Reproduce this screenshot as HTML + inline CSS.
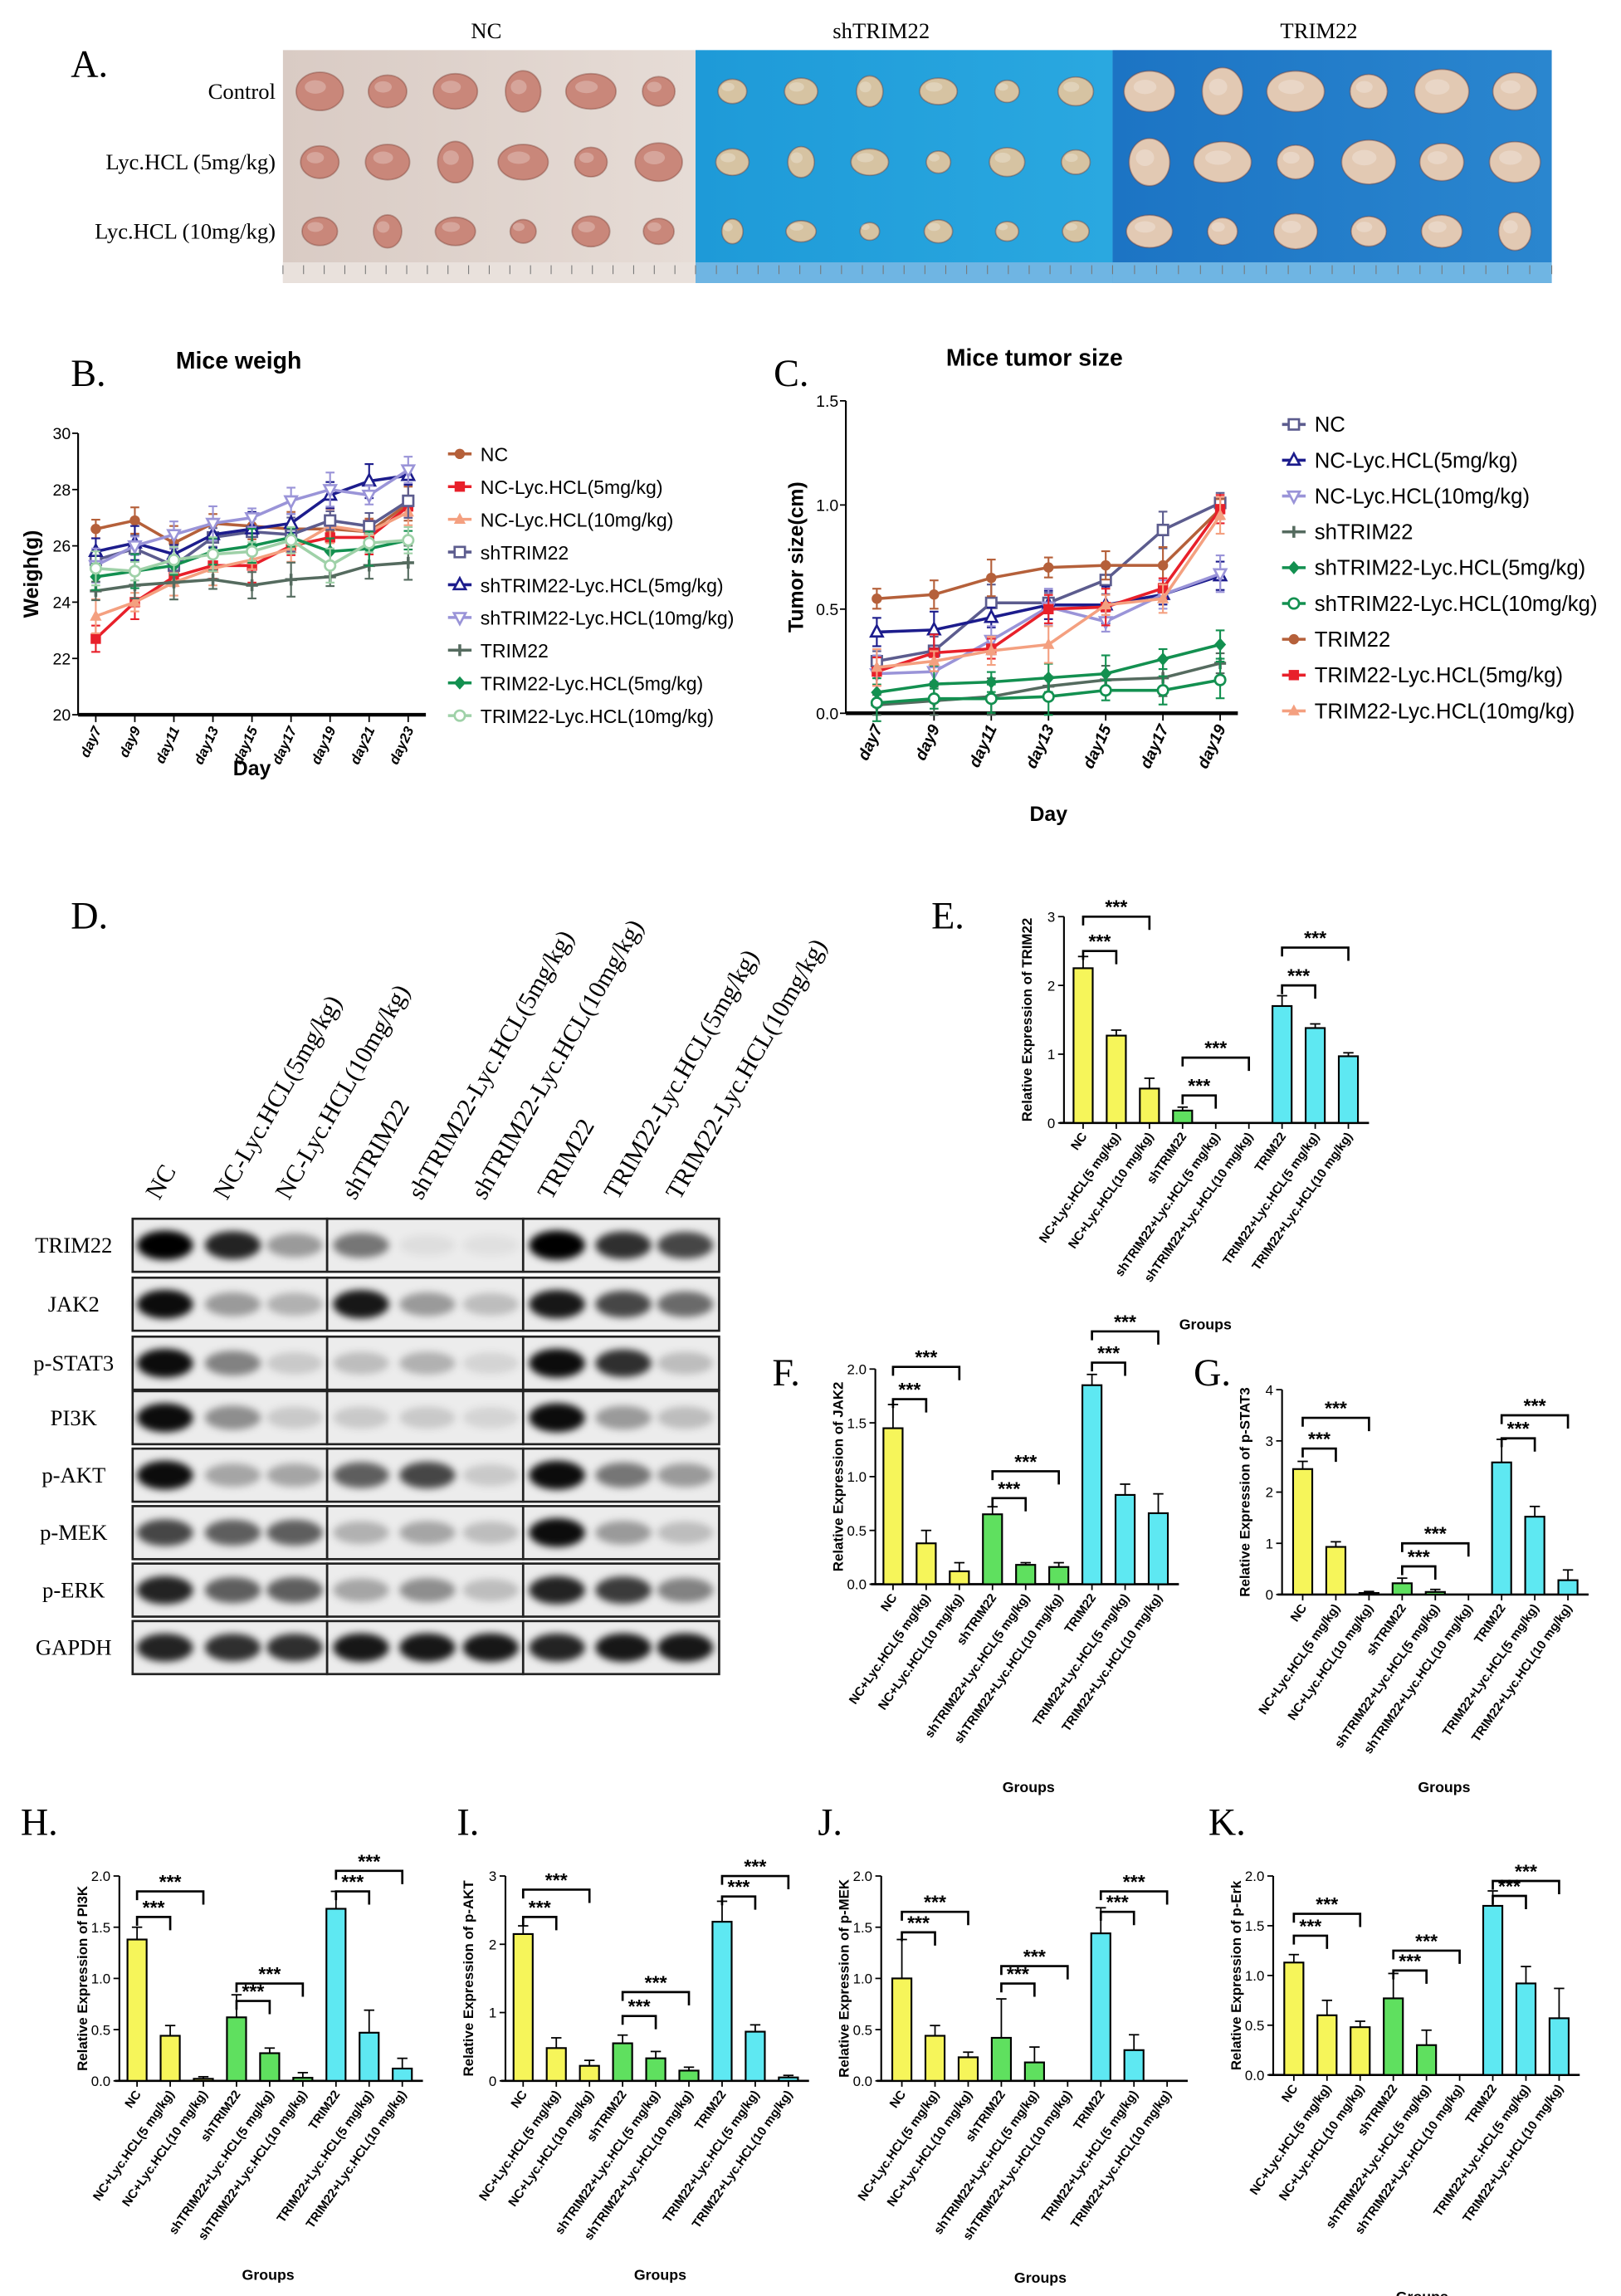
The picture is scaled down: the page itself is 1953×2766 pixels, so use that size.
<!DOCTYPE html>
<html><head><meta charset="utf-8">
<style>
html,body{margin:0;padding:0;background:#fff;}
svg{display:block;}
text{font-family:"Liberation Sans",Arial,sans-serif;}
.serif{font-family:"Liberation Serif",serif;}
</style></head>
<body>
<svg id="fig" xmlns="http://www.w3.org/2000/svg" width="1953" height="2766" viewBox="0 0 1100 1558" preserveAspectRatio="none">
<defs>
<filter id="blur" x="-50%" y="-50%" width="200%" height="200%"><feGaussianBlur stdDeviation="2.5"/></filter>
<linearGradient id="gNC" x1="0" x2="1"><stop offset="0" stop-color="#d9cbc4"/><stop offset="1" stop-color="#e6dcd6"/></linearGradient>
<linearGradient id="gSH" x1="0" x2="1"><stop offset="0" stop-color="#1e9ad8"/><stop offset="1" stop-color="#2aa8e0"/></linearGradient>
<linearGradient id="gTR" x1="0" x2="1"><stop offset="0" stop-color="#1c74c4"/><stop offset="1" stop-color="#2a86cf"/></linearGradient>
</defs>
<g id="root"></g>
</svg>
<script>
// ---------- DATA ----------
const days7to23 = ['day7','day9','day11','day13','day15','day17','day19','day21','day23'];
const days7to19 = ['day7','day9','day11','day13','day15','day17','day19'];
const weightSeriesNames = ['NC','NC-Lyc.HCL(5mg/kg)','NC-Lyc.HCL(10mg/kg)','shTRIM22','shTRIM22-Lyc.HCL(5mg/kg)','shTRIM22-Lyc.HCL(10mg/kg)','TRIM22','TRIM22-Lyc.HCL(5mg/kg)','TRIM22-Lyc.HCL(10mg/kg)'];
const wNC   = [26.6,26.9,26.1,26.8,26.7,26.6,26.6,26.5,27.5];
const wNC5  = [22.7,24.0,24.9,25.3,25.3,26.0,26.3,26.3,27.4];
const wNC10 = [23.5,24.0,24.7,25.2,25.5,25.9,26.7,26.5,27.2];
const wSH   = [25.5,25.9,25.3,26.3,26.5,26.4,26.9,26.7,27.6];
const wSH5  = [25.8,26.1,25.7,26.4,26.6,26.8,27.8,28.3,28.5];
const wSH10 = [25.3,26.0,26.4,26.8,27.0,27.6,28.0,27.8,28.7];
const wTR   = [24.4,24.6,24.7,24.8,24.6,24.8,24.9,25.3,25.4];
const wTR5  = [24.9,25.1,25.3,25.8,26.0,26.3,25.8,25.9,26.2];
const wTR10 = [25.2,25.1,25.5,25.7,25.8,26.2,25.3,26.1,26.2];
const weightTicks = [20,22,24,26,28,30];

const tumorSeriesNames = ['NC','NC-Lyc.HCL(5mg/kg)','NC-Lyc.HCL(10mg/kg)','shTRIM22','shTRIM22-Lyc.HCL(5mg/kg)','shTRIM22-Lyc.HCL(10mg/kg)','TRIM22','TRIM22-Lyc.HCL(5mg/kg)','TRIM22-Lyc.HCL(10mg/kg)'];
const tNC   = [0.25,0.30,0.53,0.53,0.64,0.88,1.01];
const tNC5  = [0.39,0.40,0.46,0.52,0.52,0.57,0.66];
const tNC10 = [0.19,0.20,0.35,0.51,0.44,0.57,0.67];
const tSH   = [0.04,0.06,0.08,0.13,0.16,0.17,0.24];
const tSH5  = [0.10,0.14,0.15,0.17,0.19,0.26,0.33];
const tSH10 = [0.05,0.07,0.07,0.08,0.11,0.11,0.16];
const tTR   = [0.55,0.57,0.65,0.70,0.71,0.71,0.98];
const tTR5  = [0.20,0.29,0.31,0.50,0.51,0.60,0.98];
const tTR10 = [0.22,0.25,0.30,0.33,0.52,0.55,0.95];
const tumorTicks = [0.0,0.5,1.0,1.5];

const groups = ['NC','NC+Lyc.HCL(5 mg/kg)','NC+Lyc.HCL(10 mg/kg)','shTRIM22','shTRIM22+Lyc.HCL(5 mg/kg)','shTRIM22+Lyc.HCL(10 mg/kg)','TRIM22','TRIM22+Lyc.HCL(5 mg/kg)','TRIM22+Lyc.HCL(10 mg/kg)'];
const eVals=[2.25,1.27,0.5,0.18,0,0,1.7,1.38,0.97];
const eErrs=[0.17,0.08,0.15,0.05,0,0,0.15,0.06,0.05];
const eBr=[[0,1,2.5],[0,2,3.0],[3,4,0.4],[3,5,0.95],[6,7,2.0],[6,8,2.55]];
const eTicks=[0,1,2,3];
const fVals=[1.45,0.38,0.12,0.65,0.18,0.16,1.85,0.83,0.66];
const fErrs=[0.22,0.12,0.08,0.07,0.02,0.04,0.1,0.1,0.18];
const fBr=[[0,1,1.72],[0,2,2.02],[3,4,0.8],[3,5,1.05],[6,7,2.06],[6,8,2.35]];
const fTicks=[0.0,0.5,1.0,1.5,2.0];
const gVals=[2.45,0.93,0.03,0.22,0.05,0,2.58,1.52,0.28];
const gErrs=[0.15,0.1,0.03,0.1,0.05,0,0.45,0.2,0.2];
const gBr=[[0,1,2.85],[0,2,3.45],[3,4,0.55],[3,5,1.0],[6,7,3.05],[6,8,3.5]];
const gTicks=[0,1,2,3,4];
const hVals=[1.38,0.44,0.02,0.62,0.27,0.03,1.68,0.47,0.12];
const hErrs=[0.12,0.1,0.02,0.22,0.05,0.05,0.17,0.22,0.1];
const hBr=[[0,1,1.6],[0,2,1.85],[3,4,0.78],[3,5,0.95],[6,7,1.85],[6,8,2.05]];
const hTicks=[0.0,0.5,1.0,1.5,2.0];
const iVals=[2.15,0.48,0.22,0.55,0.33,0.15,2.33,0.72,0.05];
const iErrs=[0.12,0.15,0.08,0.12,0.1,0.05,0.3,0.1,0.03];
const iBr=[[0,1,2.4],[0,2,2.8],[3,4,0.95],[3,5,1.3],[6,7,2.7],[6,8,3.0]];
const iTicks=[0,1,2,3];
const jVals=[1.0,0.44,0.23,0.42,0.18,0,1.44,0.3,0];
const jErrs=[0.38,0.1,0.05,0.38,0.15,0,0.25,0.15,0];
const jBr=[[0,1,1.45],[0,2,1.65],[3,4,0.95],[3,5,1.12],[6,7,1.65],[6,8,1.85]];
const jTicks=[0.0,0.5,1.0,1.5,2.0];
const kVals=[1.13,0.6,0.48,0.77,0.3,0,1.7,0.92,0.57];
const kErrs=[0.08,0.15,0.06,0.25,0.15,0,0.15,0.17,0.3];
const kBr=[[0,1,1.4],[0,2,1.62],[3,4,1.05],[3,5,1.25],[6,7,1.8],[6,8,1.95]];
const kTicks=[0.0,0.5,1.0,1.5,2.0];

const blotProteins=['TRIM22','JAK2','p-STAT3','PI3K','p-AKT','p-MEK','p-ERK','GAPDH'];
const blotLanes=['NC','NC-Lyc.HCL(5mg/kg)','NC-Lyc.HCL(10mg/kg)','shTRIM22','shTRIM22-Lyc.HCL(5mg/kg)','shTRIM22-Lyc.HCL(10mg/kg)','TRIM22','TRIM22-Lyc.HCL(5mg/kg)','TRIM22-Lyc.HCL(10mg/kg)'];
const bTRIM22=[1,.85,.35,.5,.06,.05,1,.8,.7];
const bJAK2=[.95,.35,.25,.9,.35,.2,.9,.7,.55];
const bSTAT3=[.95,.45,.15,.2,.25,.1,.95,.8,.2];
const bPI3K=[.95,.4,.15,.15,.15,.1,.95,.35,.2];
const bAKT=[.95,.3,.3,.6,.7,.15,.95,.5,.35];
const bMEK=[.7,.6,.6,.25,.3,.2,.95,.35,.2];
const bERK=[.85,.6,.6,.3,.4,.2,.85,.75,.45];
const bGAPDH=[.85,.8,.8,.9,.9,.9,.85,.9,.9];

// ---------- HELPERS ----------
const NS='http://www.w3.org/2000/svg';
const root=document.getElementById('root');
function el(tag,attrs,parent,txt){const e=document.createElementNS(NS,tag);for(const k in attrs)e.setAttribute(k,attrs[k]);if(txt!==undefined)e.textContent=txt;(parent||root).appendChild(e);return e;}
function grp(name,parent){const g=el('g',{},parent);


return g;}

[['A.',48,52],['B.',48,262],['C.',525,262],['D.',48,630],['E.',632,630],['F.',524,940],['G.',810,940],['H.',14,1245],['I.',310,1245],['J.',555,1245],['K.',820,1245]].forEach(p=>{
 const t=el('text',{x:p[1],y:p[2],'font-size':26,class:'serif'},root,p[0]);
 
 
});

// ---------- PANEL A ----------
(function(){
 const g=grp('panel-a-tumor-photos');
 const blocks=[['NC',192,472,'url(#gNC)','#c9877a',330],['shTRIM22',472,755,'url(#gSH)','#d6c3a2',598],['TRIM22',755,1053,'url(#gTR)','#e2c9b3',895]];
 const rows=[['Control',62],['Lyc.HCL (5mg/kg)',110],['Lyc.HCL (10mg/kg)',157]];
 rows.forEach(r=>{const t=el('text',{x:187,y:r[1]+5,'font-size':15,'text-anchor':'end',class:'serif'},g,r[0]);
 
 });
 const sizes=[[16,13],[13,11],[15,12],[12,14],[17,12],[11,10]];
 blocks.forEach((b,bi)=>{
  const hdr=el('text',{x:b[5],y:26,'font-size':15,'text-anchor':'middle',class:'serif'},g,b[0]);
  
  
  el('rect',{x:b[1],y:34,width:b[2]-b[1],height:158,fill:b[3]},g);
  el('rect',{x:b[1],y:178,width:b[2]-b[1],height:14,fill:bi==0?'#e9e1dc':'#6fb5e3'},g);
  for(let k=0;k<=20;k++)el('line',{x1:b[1]+k*(b[2]-b[1])/20,x2:b[1]+k*(b[2]-b[1])/20,y1:180,y2:186,stroke:'#777','stroke-width':0.6},g);
  rows.forEach((r,ri)=>{
   for(let j=0;j<6;j++){
    const s=sizes[(j+ri+bi)%6];const sc=bi==1?0.75:(bi==2?1.15:1);const rs=ri==2?0.8:1;
    const cx=b[1]+25+j*(b[2]-b[1]-50)/5;
    el('ellipse',{cx:cx,cy:r[1],rx:s[0]*sc*rs,ry:s[1]*sc*rs,fill:b[4],stroke:'rgba(120,60,50,0.4)','stroke-width':1},g);
    el('ellipse',{cx:cx-3,cy:r[1]-3,rx:s[0]*sc*rs*0.45,ry:s[1]*sc*rs*0.35,fill:'rgba(255,255,255,0.25)'},g);
   }
  });
 });
})();

// ---------- LINE CHARTS ----------
function lineChart(o){
 const g=grp(o.name);
 const ys=v=>o.yBot-(v-o.ymin)/(o.ymax-o.ymin)*(o.yBot-o.yTop);
 const xs=i=>o.x0+i*(o.x1-o.x0)/(o.cats.length-1);
 const t=el('text',{x:o.titleX,y:o.titleY,'font-size':16,'font-weight':'bold','text-anchor':'middle'},g,o.title);
 
 
 el('line',{x1:o.axisX,x2:o.axisX,y1:o.yTop,y2:o.yBot,stroke:'#000','stroke-width':1.2},g);
 el('line',{x1:o.axisX,x2:o.x1+12,y1:o.yBot,y2:o.yBot,stroke:'#000','stroke-width':2.5},g);
 o.ticks.forEach(v=>{el('line',{x1:o.axisX-4,x2:o.axisX,y1:ys(v),y2:ys(v),stroke:'#000'},g);
  const tl=el('text',{x:o.axisX-5,y:ys(v)+4,'font-size':11,'text-anchor':'end'},g,o.fmt(v));
  
  });
 o.cats.forEach((c,i)=>{el('line',{x1:xs(i),x2:xs(i),y1:o.yBot,y2:o.yBot+5,stroke:'#000'},g);
  const tl=el('text',{x:xs(i)+4,y:o.yBot+10,'font-size':o.xfs,'font-weight':'bold','font-style':'italic','text-anchor':'end',transform:`rotate(-65 ${xs(i)+4} ${o.yBot+10})`},g,c);
  
  });
 const yt=el('text',{x:0,y:0,'font-size':14,'font-weight':'bold','text-anchor':'middle',transform:`translate(${o.ytX},${(o.yTop+o.yBot)/2}) rotate(-90)`},g,o.ytitle);
 
 
 const xt=el('text',{x:(o.x0+o.x1)/2,y:o.xtY,'font-size':14,'font-weight':'bold','text-anchor':'middle'},g,'Day');
 
 
 o.series.forEach((s,si)=>{
  const sg=grp('series-'+o.names[si].toLowerCase().replace(/[^a-z0-9]+/g,'-'),g);
  const col=o.colors[si];
  el('polyline',{points:s.map((v,i)=>xs(i)+','+ys(v)).join(' '),fill:'none',stroke:col,'stroke-width':2},sg);
  s.forEach((v,i)=>{const e=o.err*(0.6+((i+si)%3)*0.25);
   el('line',{x1:xs(i),x2:xs(i),y1:ys(v-e),y2:ys(v+e),stroke:col,'stroke-width':1.2},sg);
   el('line',{x1:xs(i)-3,x2:xs(i)+3,y1:ys(v+e),y2:ys(v+e),stroke:col,'stroke-width':1.2},sg);
   el('line',{x1:xs(i)-3,x2:xs(i)+3,y1:ys(v-e),y2:ys(v-e),stroke:col,'stroke-width':1.2},sg);
   marker(sg,o.markers[si],xs(i),ys(v),col);});
  const ly=o.legY+si*o.legDy;
  const lg=grp('legend-entry',g);
  el('line',{x1:o.legX-8,x2:o.legX+8,y1:ly,y2:ly,stroke:col,'stroke-width':2},lg);
  marker(lg,o.markers[si],o.legX,ly,col);
  el('text',{x:o.legX+14,y:ly+5,'font-size':o.legFs},lg,o.names[si]);
 });
}
function marker(g,m,x,y,c){
 if(m=='circle')el('circle',{cx:x,cy:y,r:3.5,fill:c},g);
 else if(m=='ocircle')el('circle',{cx:x,cy:y,r:3.5,fill:'#fff',stroke:c,'stroke-width':1.5},g);
 else if(m=='square')el('rect',{x:x-3.5,y:y-3.5,width:7,height:7,fill:c},g);
 else if(m=='osquare')el('rect',{x:x-3.5,y:y-3.5,width:7,height:7,fill:'#fff',stroke:c,'stroke-width':1.5},g);
 else if(m=='tri')el('polygon',{points:`${x},${y-4.5} ${x-4},${y+3} ${x+4},${y+3}`,fill:'#fff',stroke:c,'stroke-width':1.5},g);
 else if(m=='dtri')el('polygon',{points:`${x},${y+4.5} ${x-4},${y-3} ${x+4},${y-3}`,fill:'#fff',stroke:c,'stroke-width':1.5},g);
 else if(m=='ftri')el('polygon',{points:`${x},${y-4.5} ${x-4},${y+3} ${x+4},${y+3}`,fill:c},g);
 else if(m=='diamond')el('polygon',{points:`${x},${y-4.5} ${x-4},${y} ${x},${y+4.5} ${x+4},${y}`,fill:c},g);
 else if(m=='plus'){el('line',{x1:x-4,x2:x+4,y1:y,y2:y,stroke:c,'stroke-width':2},g);el('line',{x1:x,x2:x,y1:y-4,y2:y+4,stroke:c,'stroke-width':2},g);}
}
lineChart({name:'panel-b-mice-weight-chart',title:'Mice weigh',titleX:162,titleY:250,cats:days7to23,ymin:20,ymax:30,yTop:294,yBot:485,axisX:53,x0:65,x1:277,xfs:9.5,
 ticks:weightTicks,fmt:v=>String(v),ytitle:'Weigh(g)',ytX:26,xtY:526,err:0.55,
 series:[wNC,wNC5,wNC10,wSH,wSH5,wSH10,wTR,wTR5,wTR10],names:weightSeriesNames,
 colors:['#b5603a','#e8202a','#f4a080','#5c5c8e','#1c1c8c','#9a94d8','#556b5f','#139050','#9fd1a8'],
 markers:['circle','square','ftri','osquare','tri','dtri','plus','diamond','ocircle'],legX:312,legY:308,legDy:22.2,legFs:13});
lineChart({name:'panel-c-tumor-size-chart',title:'Mice tumor size',titleX:702,titleY:248,cats:days7to19,ymin:0,ymax:1.5,yTop:272,yBot:484,axisX:574,x0:595,x1:828,xfs:11,
 ticks:tumorTicks,fmt:v=>v.toFixed(1),ytitle:'Tumor size(cm)',ytX:545,xtY:557,err:0.08,
 series:[tNC,tNC5,tNC10,tSH,tSH5,tSH10,tTR,tTR5,tTR10],names:tumorSeriesNames,
 colors:['#5c5c8e','#1c1c8c','#9a94d8','#556b5f','#139050','#139050','#b5603a','#e8202a','#f4a080'],
 markers:['osquare','tri','dtri','plus','diamond','ocircle','circle','square','ftri'],legX:878,legY:288,legDy:24.3,legFs:14.5});

// ---------- PANEL D ----------
(function(){
 const g=grp('panel-d-western-blot');
 const laneX=[112,158,200,245,290,333,378,423,465];
 const rowsY=[845,885,925,962,1001,1040,1079,1118];
 const data=[bTRIM22,bJAK2,bSTAT3,bPI3K,bAKT,bMEK,bERK,bGAPDH];
 [[90,222],[222,355],[355,488]].forEach((b,bi)=>{
  rowsY.forEach((y,ri)=>{
   el('rect',{x:b[0],y:y-18,width:b[1]-b[0],height:36,fill:'#ececec',stroke:'#222','stroke-width':1.5},g);
  });
 });
 rowsY.forEach((y,ri)=>{
  const t=el('text',{x:50,y:y+5,'font-size':15,'text-anchor':'middle',class:'serif'},g,blotProteins[ri]);
  
  
  data[ri].forEach((v,li)=>{
   el('ellipse',{cx:laneX[li],cy:y,rx:19,ry:7+v*3,fill:`rgba(0,0,0,${v})`,filter:'url(#blur)'},g);
  });
 });
 blotLanes.forEach((n,li)=>{
  const x=laneX[li]-4,y=815;
  const t=el('text',{x:x,y:y,'font-size':17,class:'serif',transform:`rotate(-60 ${x} ${y})`},g,n);
  
  
 });
})();

// ---------- BAR CHARTS ----------
const barColors=['#f6f55a','#f6f55a','#f6f55a','#5fe05f','#5fe05f','#5fe05f','#5ee8f2','#5ee8f2','#5ee8f2'];
function barChart(o){
 const g=grp(o.name);
 const sp=22.5;
 const xs=i=>o.x0+i*sp;
 const ys=v=>o.yBot-v/o.ymax*(o.yBot-o.yTop);
 el('line',{x1:o.axisX,x2:o.axisX,y1:o.yTop,y2:o.yBot,stroke:'#000','stroke-width':1.2},g);
 el('line',{x1:o.axisX-3,x2:xs(8)+14,y1:o.yBot,y2:o.yBot,stroke:'#000','stroke-width':1.5},g);
 o.ticks.forEach(v=>{el('line',{x1:o.axisX-4,x2:o.axisX,y1:ys(v),y2:ys(v),stroke:'#000'},g);
  const tl=el('text',{x:o.axisX-6,y:ys(v)+3.5,'font-size':9.5,'text-anchor':'end'},g,o.fmt(v));
  
  });
 o.vals.forEach((v,i)=>{
  const bg=grp('bar-'+groups[i].toLowerCase().replace(/[^a-z0-9]+/g,'-'),g);
  el('line',{x1:xs(i),x2:xs(i),y1:o.yBot,y2:o.yBot+4,stroke:'#000'},bg);
  if(v>0){
   const e=o.errs[i];
   el('line',{x1:xs(i),x2:xs(i),y1:ys(v),y2:ys(v+e),stroke:'#000','stroke-width':1},bg);
   el('line',{x1:xs(i)-3.5,x2:xs(i)+3.5,y1:ys(v+e),y2:ys(v+e),stroke:'#000','stroke-width':1},bg);
   el('rect',{x:xs(i)-6.5,y:ys(v),width:13,height:o.yBot-ys(v),fill:barColors[i],stroke:'#000','stroke-width':1.2},bg);
  }
  const lx=xs(i)+3,ly=o.yBot+9;
  const tl=el('text',{x:lx,y:ly,'font-size':8.5,'font-weight':'bold','text-anchor':'end',transform:`rotate(-55 ${lx} ${ly})`},g,groups[i]);
  
  
 });
 o.br.forEach(b=>{
  const bg=grp('significance-bracket',g);
  const y=ys(b[2]);
  el('polyline',{points:`${xs(b[0])},${y+6} ${xs(b[0])},${y} ${xs(b[1])},${y} ${xs(b[1])},${y+9}`,fill:'none',stroke:'#000','stroke-width':1.5},bg);
  el('text',{x:(xs(b[0])+xs(b[1]))/2,y:y-2,'font-size':13,'font-weight':'bold','text-anchor':'middle'},bg,'***');
 });
 const yt=el('text',{x:0,y:0,'font-size':9.5,'font-weight':'bold','text-anchor':'middle',transform:`translate(${o.axisX-22},${(o.yTop+o.yBot)/2}) rotate(-90)`},g,o.ytitle);
 
 
 const xt=el('text',{x:o.gx,y:o.gy,'font-size':10,'font-weight':'bold','text-anchor':'middle'},g,'Groups');
 
 
}
barChart({name:'panel-e-trim22-bar-chart',vals:eVals,errs:eErrs,br:eBr,ticks:eTicks,fmt:v=>String(v),ymax:3,yTop:622,yBot:762,axisX:722,x0:735,ytitle:'Relative Expression of TRIM22',gx:818,gy:902});
barChart({name:'panel-f-jak2-bar-chart',vals:fVals,errs:fErrs,br:fBr,ticks:fTicks,fmt:v=>v.toFixed(1),ymax:2,yTop:929,yBot:1075,axisX:594,x0:606,ytitle:'Relative Expression of JAK2',gx:698,gy:1216});
barChart({name:'panel-g-pstat3-bar-chart',vals:gVals,errs:gErrs,br:gBr,ticks:gTicks,fmt:v=>String(v),ymax:4,yTop:943,yBot:1082,axisX:870,x0:884,ytitle:'Relative Expression of p-STAT3',gx:980,gy:1216});
barChart({name:'panel-h-pi3k-bar-chart',vals:hVals,errs:hErrs,br:hBr,ticks:hTicks,fmt:v=>v.toFixed(1),ymax:2,yTop:1273,yBot:1412,axisX:81,x0:93,ytitle:'Relative Expression of PI3K',gx:182,gy:1547});
barChart({name:'panel-i-pakt-bar-chart',vals:iVals,errs:iErrs,br:iBr,ticks:iTicks,fmt:v=>String(v),ymax:3,yTop:1273,yBot:1412,axisX:343,x0:355,ytitle:'Relative Expression of p-AKT',gx:448,gy:1547});
barChart({name:'panel-j-pmek-bar-chart',vals:jVals,errs:jErrs,br:jBr,ticks:jTicks,fmt:v=>v.toFixed(1),ymax:2,yTop:1273,yBot:1412,axisX:598,x0:612,ytitle:'Relative Expression of p-MEK',gx:706,gy:1549});
barChart({name:'panel-k-perk-bar-chart',vals:kVals,errs:kErrs,br:kBr,ticks:kTicks,fmt:v=>v.toFixed(1),ymax:2,yTop:1273,yBot:1408,axisX:864,x0:878,ytitle:'Relative Expression of p-Erk',gx:965,gy:1562});
</script>
</body></html>
